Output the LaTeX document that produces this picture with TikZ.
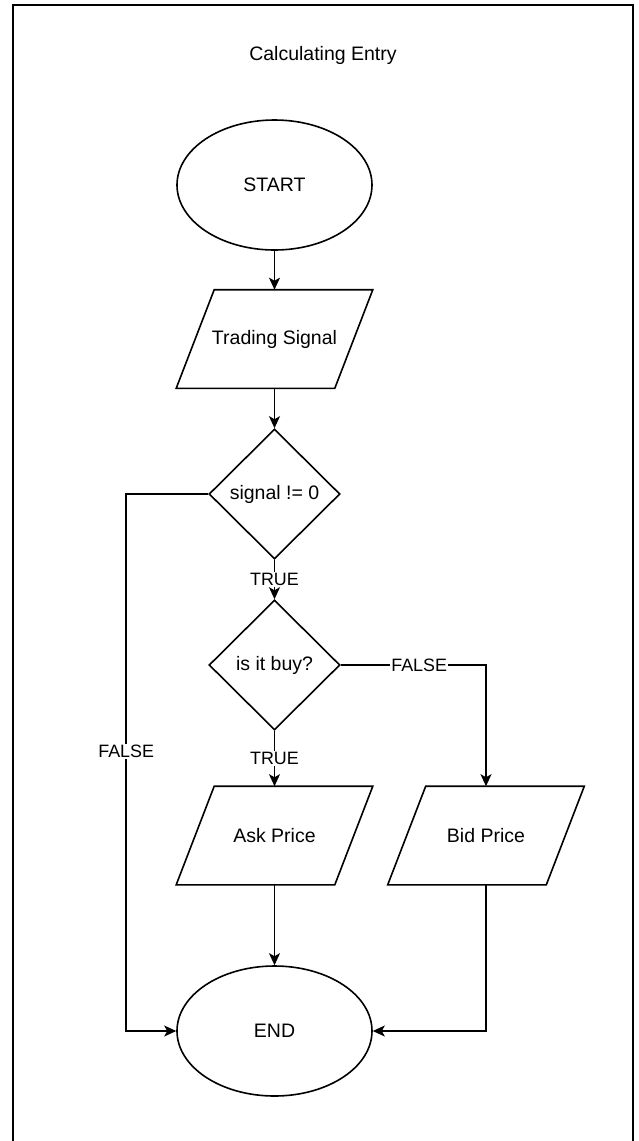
\documentclass[tikz,border=0pt]{standalone}
\usepackage{fontspec}
\setmainfont{Liberation Sans}
\usetikzlibrary{shapes.geometric, arrows.meta}
\begin{document}
\begin{tikzpicture}[x=1pt, y=-1pt,
  line width=1.6pt,
  every node/.style={font=\fontsize{19.5}{23}\selectfont, inner sep=0pt},
  term/.style={ellipse, draw, minimum width=195pt, minimum height=130pt},
  decision/.style={diamond, draw, minimum width=131pt, minimum height=130pt},
  iobox/.style={minimum width=195pt, minimum height=97pt},
  iooutline/.style={draw, line join=miter},
  edgelabel/.style={fill=white, inner sep=1pt, font=\fontsize{17.9}{21}\selectfont},
  flow/.style={-{Stealth[length=12pt, width=11pt, inset=3pt]}},
]
\useasboundingbox (0,0) rectangle (638,1141);

% page frame, open at the bottom
\draw[line width=1.7pt] (13,1145) -- (13,5) -- (633,5) -- (633,1145);

\node (title) at (323,55) {Calculating Entry};

% shapes
\node[term] (start) at (274.5,185) {START};
\node[iobox] (sig) at (274.5,339) {Trading Signal};
\node[decision] (d1) at (274.5,494) {signal != 0};
\node[decision] (d2) at (274.5,665) {is it buy?};
\node[iobox] (ask) at (274.5,835.5) {Ask Price};
\node[iobox] (bid) at (486,835.5) {Bid Price};
\node[term] (stop) at (274.5,1031) {END};

% parallelogram outlines for the input/output boxes
\foreach \n in {sig,ask,bid}
  \draw[iooutline] (\n.south west) -- ([xshift=38pt]\n.north west)
        -- (\n.north east) -- ([xshift=-38pt]\n.south east) -- cycle;

% connectors
\draw[flow] (start.south) -- (sig.north);
\draw[flow] (sig.south) -- (d1.north);
\draw[flow] (d1.south) -- node[edgelabel] {TRUE} (d2.north);
\draw[flow] (d2.south) -- node[edgelabel] {TRUE} (ask.north);
\draw[flow] (d2.east) -| node[edgelabel, pos=0.27] {FALSE} (bid.north);
\draw[flow] (d1.west) -| node[edgelabel, pos=0.74] {FALSE}
      ([xshift=-50pt]stop.west) -- (stop.west);
\draw[flow] (ask.south) -- (stop.north);
\draw[flow] (bid.south) |- (stop.east);
\end{tikzpicture}
\end{document}
